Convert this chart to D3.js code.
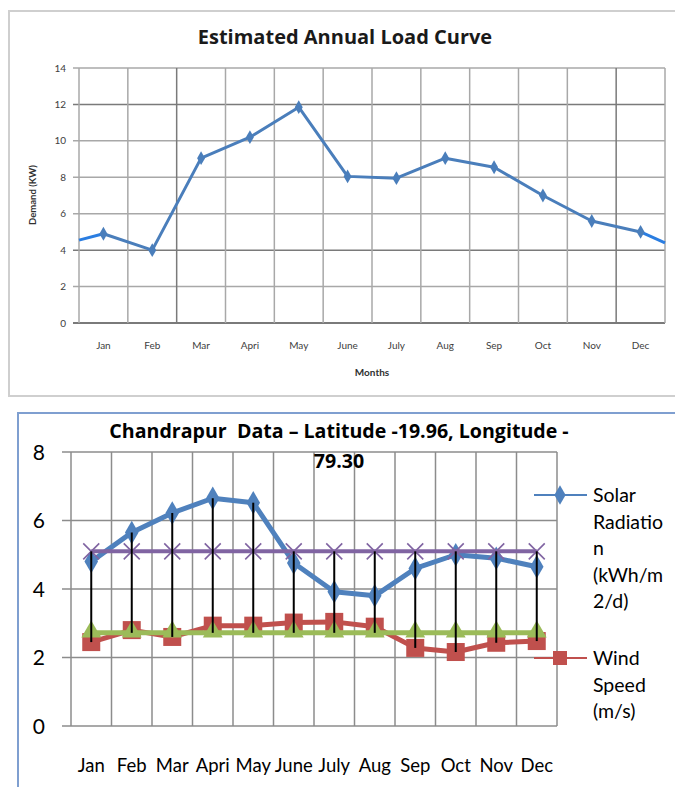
<!DOCTYPE html>
<html><head><meta charset="utf-8">
<script src="https://cdn.jsdelivr.net/npm/d3@7"></script>
<style>body{margin:0;background:#fff}svg{display:block}text{font-family:Lato,"Open Sans",sans-serif}</style>
</head><body>
<svg id="c" width="675" height="787"></svg>
<script>
// ---------- Data: top chart ----------
const loadMonths = ["Jan","Feb","Mar","Apri","May","June","July","Aug","Sep","Oct","Nov","Dec"];
const demand = [4.9, 4.0, 9.05, 10.2, 11.85, 8.05, 7.95, 9.05, 8.55, 7.0, 5.6, 5.0];
const demandEdges = [4.55, 4.4];   // line continues to left/right plot edge
const demandTicks = [0, 2, 4, 6, 8, 10, 12, 14];

// ---------- Data: bottom chart ----------
const siteMonths = ["Jan","Feb","Mar","Apri","May","June","July","Aug","Sep","Oct","Nov","Dec"];
const solar = [4.8, 5.65, 6.22, 6.65, 6.52, 4.76, 3.92, 3.8, 4.6, 5.0, 4.9, 4.65];
const wind  = [2.45, 2.8, 2.6, 2.93, 2.93, 3.02, 3.04, 2.9, 2.28, 2.16, 2.43, 2.48];
const greenSeries  = [2.72, 2.72, 2.72, 2.72, 2.72, 2.72, 2.72, 2.72, 2.72, 2.72, 2.72, 2.72];
const purpleSeries = [5.1, 5.1, 5.1, 5.1, 5.1, 5.1, 5.1, 5.1, 5.1, 5.1, 5.1, 5.1];
const siteTicks = [0, 2, 4, 6, 8];
const legendNames = [["Solar","Radiatio","n","(kWh/m","2/d)"], ["Wind","Speed","(m/s)"]];

const svg = d3.select("#c");
const titleFont = "'Open Sans', Lato, sans-serif";

// ================= TOP CHART =================
{
  const g = svg.append("g");
  g.append("path").attr("d","M700,11 H9 V396 H700").attr("fill","none").attr("stroke","#cfcfcf").attr("stroke-width",2);

  const x = d3.scaleBand().domain(loadMonths).range([79, 665]);
  const y = d3.scaleLinear().domain([0, 14]).range([323, 68]);

  g.selectAll(".hg").data(demandTicks).join("line")
    .attr("x1", 73).attr("x2", 665)
    .attr("y1", d => y(d)).attr("y2", d => y(d))
    .attr("stroke", d => (d === 0 || d === 4 || d === 12) ? "#7a7a7a" : "#a8a8a8")
    .attr("stroke-width", d => d === 0 ? 2 : 1.5);
  const bounds = loadMonths.map(m => x(m)).concat([x.range()[1]]);
  g.selectAll(".vg").data(bounds).join("line")
    .attr("x1", d => d).attr("x2", d => d)
    .attr("y1", y(14)).attr("y2", y(0))
    .attr("stroke", (d, i) => (i === 2 || i === 11) ? "#7a7a7a" : "#a8a8a8")
    .attr("stroke-width", 1.5);

  g.selectAll(".yl").data(demandTicks).join("text")
    .attr("x", 66).attr("y", d => y(d) + 3.5)
    .attr("text-anchor", "end").attr("font-size", 10).attr("fill", "#404040")
    .text(d => d);
  g.selectAll(".xl").data(loadMonths).join("text")
    .attr("x", d => x(d) + x.bandwidth() / 2).attr("y", 349)
    .attr("text-anchor", "middle").attr("font-size", 10).attr("fill", "#404040")
    .text(d => d);
  g.append("text").attr("x", 372).attr("y", 376).attr("text-anchor", "middle")
    .attr("font-size", 10).attr("font-weight", "bold").attr("fill", "#303030").text("Months");
  g.append("text").attr("transform", "translate(36,195) rotate(-90)").attr("text-anchor", "middle")
    .attr("font-size", 9.5).attr("font-weight", "bold").attr("fill", "#303030").text("Demand (KW)");
  g.append("text").attr("x", 345).attr("y", 44).attr("text-anchor", "middle")
    .style("font-family", titleFont)
    .attr("font-size", 20).attr("font-weight", "bold").attr("fill", "#1a1a1a").text("Estimated Annual Load Curve");

  const cx = d => x(d) + x.bandwidth() / 2;
  g.append("line").attr("x1", x.range()[0]).attr("y1", y(demandEdges[0]))
    .attr("x2", cx(loadMonths[0])).attr("y2", y(demand[0]))
    .attr("stroke", "#2a7de1").attr("stroke-width", 3);
  g.append("line").attr("x1", cx(loadMonths[11])).attr("y1", y(demand[11]))
    .attr("x2", x.range()[1]).attr("y2", y(demandEdges[1]))
    .attr("stroke", "#2a7de1").attr("stroke-width", 3);
  const line = d3.line().x((d, i) => cx(loadMonths[i])).y(d => y(d));
  g.append("path").attr("d", line(demand)).attr("fill", "none")
    .attr("stroke", "#4a7ebb").attr("stroke-width", 3).attr("stroke-linejoin", "round");
  g.selectAll(".mk").data(demand).join("path")
    .attr("transform", (d, i) => `translate(${cx(loadMonths[i])},${y(d)})`)
    .attr("d", d3.symbol(d3.symbolDiamond, 55)())
    .attr("fill", "#4a7ebb");
}

// ================= BOTTOM CHART =================
{
  const g = svg.append("g");
  g.append("path").attr("d","M700,413 H18 V800").attr("fill","none").attr("stroke","#7f9fd0").attr("stroke-width",2);

  const x = d3.scaleBand().domain(siteMonths).range([71, 557]);
  const y = d3.scaleLinear().domain([0, 8]).range([726, 452]);
  const cx = d => x(d) + x.bandwidth() / 2;

  g.selectAll(".hg").data(siteTicks).join("line")
    .attr("x1", 62).attr("x2", 557)
    .attr("y1", d => y(d)).attr("y2", d => y(d))
    .attr("stroke", "#8c8c8c").attr("stroke-width", 1.5);
  const bounds = siteMonths.map(m => x(m)).concat([x.range()[1]]);
  g.selectAll(".vg").data(bounds).join("line")
    .attr("x1", d => d).attr("x2", d => d)
    .attr("y1", y(8)).attr("y2", y(0))
    .attr("stroke", "#8c8c8c").attr("stroke-width", 1.5);

  g.selectAll(".yl").data(siteTicks).join("text")
    .attr("x", 45).attr("y", d => y(d) + 7.5)
    .attr("text-anchor", "end").attr("font-size", 21).attr("fill", "#000")
    .text(d => d);
  g.selectAll(".xl").data(siteMonths).join("text")
    .attr("x", d => cx(d)).attr("y", 772)
    .attr("text-anchor", "middle").attr("font-size", 18.5).attr("fill", "#000")
    .text(d => d);

  g.append("text").attr("x", 339).attr("y", 438).attr("text-anchor", "middle")
    .style("font-family", titleFont).style("white-space", "pre")
    .attr("font-size", 19.6).attr("font-weight", "bold").attr("fill", "#000")
    .text("Chandrapur  Data \u2013 Latitude -19.96, Longitude -");
  g.append("text").attr("x", 339).attr("y", 468).attr("text-anchor", "middle")
    .style("font-family", titleFont)
    .attr("font-size", 19.6).attr("font-weight", "bold").attr("fill", "#000").text("79.30");

  const lineOf = d3.line().x((d, i) => cx(siteMonths[i])).y(d => y(d));

  g.append("path").attr("d", lineOf(solar)).attr("fill", "none")
    .attr("stroke", "#4f81bd").attr("stroke-width", 5).attr("stroke-linejoin", "round");
  g.selectAll(".sm").data(solar).join("path")
    .attr("transform", (d, i) => `translate(${cx(siteMonths[i])},${y(d)})`)
    .attr("d", d3.symbol(d3.symbolDiamond, 160)()).attr("fill", "#4f81bd");
  g.append("path").attr("d", lineOf(wind)).attr("fill", "none")
    .attr("stroke", "#c0504d").attr("stroke-width", 5).attr("stroke-linejoin", "round");
  g.selectAll(".wm").data(wind).join("rect")
    .attr("x", (d, i) => cx(siteMonths[i]) - 9).attr("y", d => y(d) - 9)
    .attr("width", 18).attr("height", 18).attr("fill", "#c0504d");
  g.append("path").attr("d", lineOf(greenSeries)).attr("fill", "none")
    .attr("stroke", "#9bbb59").attr("stroke-width", 5);
  g.selectAll(".gm").data(greenSeries).join("path")
    .attr("transform", (d, i) => `translate(${cx(siteMonths[i])},${y(d) - 1})`)
    .attr("d", d3.symbol(d3.symbolTriangle, 170)()).attr("fill", "#9bbb59");
  g.append("path").attr("d", lineOf(purpleSeries)).attr("fill", "none")
    .attr("stroke", "#8064a2").attr("stroke-width", 4);
  g.selectAll(".pm").data(purpleSeries).join("path")
    .attr("transform", (d, i) => `translate(${cx(siteMonths[i])},${y(d)})`)
    .attr("d", "M-8,-8L8,8M-8,8L8,-8").attr("stroke", "#8064a2").attr("stroke-width", 1.6);

  const all = [solar, wind, greenSeries, purpleSeries];
  g.selectAll(".hl").data(siteMonths).join("line")
    .attr("x1", d => cx(d)).attr("x2", d => cx(d))
    .attr("y1", (d, i) => y(d3.max(all, s => s[i])))
    .attr("y2", (d, i) => y(d3.min(all, s => s[i])))
    .attr("stroke", "#000").attr("stroke-width", 2);

  const leg = [{c: "#4f81bd", sym: "diamond", y: 495, names: legendNames[0]},
               {c: "#c0504d", sym: "square", y: 658, names: legendNames[1]}];
  leg.forEach(L => {
    g.append("line").attr("x1", 534).attr("x2", 587).attr("y1", L.y).attr("y2", L.y)
      .attr("stroke", L.c).attr("stroke-width", 2);
    if (L.sym === "diamond") {
      g.append("path").attr("transform", `translate(560,${L.y})`)
        .attr("d", d3.symbol(d3.symbolDiamond, 110)()).attr("fill", L.c);
    } else {
      g.append("rect").attr("x", 553).attr("y", L.y - 7).attr("width", 14).attr("height", 14).attr("fill", L.c);
    }
    L.names.forEach((t, k) => {
      g.append("text").attr("x", 593).attr("y", L.y + 7 + k * 26.5)
        .attr("font-size", 19.5).attr("fill", "#000").text(t);
    });
  });
}
</script>
</body></html>
